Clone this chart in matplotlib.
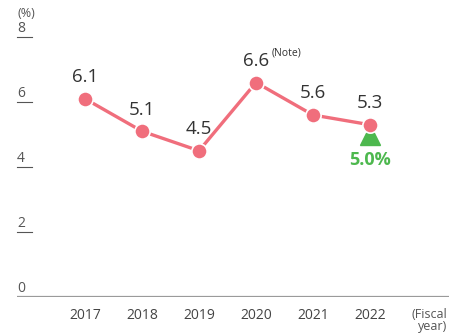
import matplotlib
matplotlib.use("Agg")
import matplotlib.pyplot as plt
from matplotlib.transforms import offset_copy

plt.rcParams["font.family"] = ["Open Sans", "DejaVu Sans"]

years = ["2017", "2018", "2019", "2020", "2021", "2022"]
ratio = [6.1, 5.1, 4.5, 6.6, 5.6, 5.3]
target_value = 5.0
target_label = "5.0%"
yticks = [0, 2, 4, 6, 8]

line_color = "#F06E7C"
green = "#4DB84E"
text_color = "#333333"

fig = plt.figure(figsize=(4.49, 3.34), dpi=100)
ax = fig.add_axes([17 / 449, 37 / 334, 432 / 449, 260 / 334])
ax.set_xlim(-1.193, 6.386)
ax.set_ylim(0, 8)
ax.axis("off")

x = list(range(len(years)))

# baseline
ax.axhline(0, color="#9a9a9a", lw=1.6, zorder=1)

# y scale: short underline with number above
ytr = ax.get_yaxis_transform()
for v in yticks:
    if v > 0:
        ax.plot([0, 15 / 432], [v, v], transform=ytr, color="#555555", lw=0.8, clip_on=False)
    ax.text(0, v, str(v), transform=offset_copy(ytr, fig=fig, x=0, y=0.5, units="points"),
            ha="left", va="bottom", fontsize=10, color="#555555")
ax.text(0, 8, "(%)", transform=offset_copy(ytr, fig=fig, x=0, y=12, units="points"),
        ha="left", va="bottom", fontsize=9, color="#555555")

# target marker sits under the last point
ax.plot([x[-1]], [target_value], marker="^", markersize=15, color=green, ls="none", zorder=2)
ax.text(x[-1], target_value, target_label, transform=offset_copy(ax.transData, fig=fig, x=0, y=-12, units="points"),
        ha="center", va="top", fontsize=13, fontweight="bold", color=green)

ax.plot(x, ratio, color=line_color, lw=2.4, marker="o", markersize=11,
        markeredgecolor="white", markeredgewidth=1.2, zorder=3)

for xi, v in zip(x, ratio):
    ax.text(xi, v, f"{v:.1f}", transform=offset_copy(ax.transData, fig=fig, x=0, y=9, units="points"),
            ha="center", va="bottom", fontsize=13.5, color=text_color)
ax.text(x[3], ratio[3], "(Note)", transform=offset_copy(ax.transData, fig=fig, x=11, y=17, units="points"),
        ha="left", va="bottom", fontsize=7.5, color=text_color)

xtr = ax.get_xaxis_transform()
for xi, y in zip(x, years):
    ax.text(xi, 0, y, transform=offset_copy(xtr, fig=fig, x=0, y=-8, units="points"),
            ha="center", va="top", fontsize=10, color="#444444")
ax.text(1.0, 0, "(Fiscal\nyear)", transform=offset_copy(ax.transAxes, fig=fig, x=-1, y=-8, units="points"),
        ha="right", va="top", fontsize=9, color="#555555", linespacing=0.85)

fig.savefig("out.png", dpi=100)
